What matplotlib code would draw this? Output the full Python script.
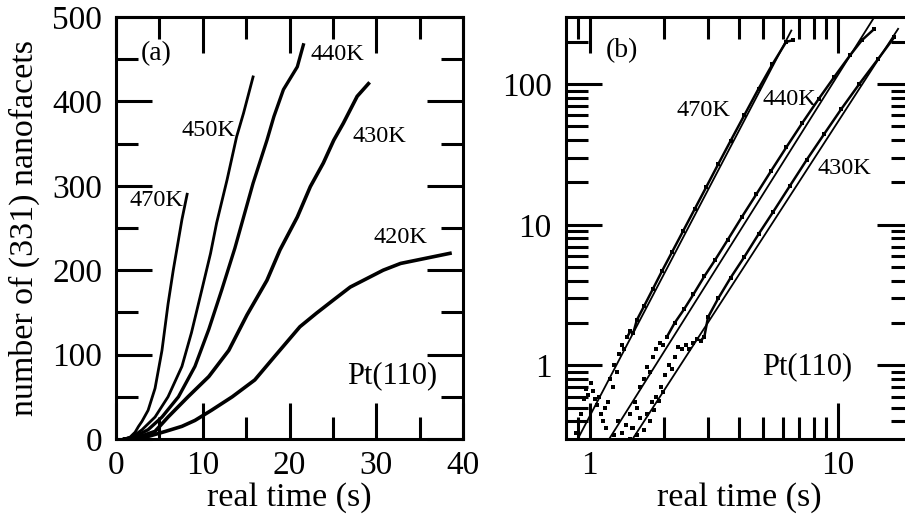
import numpy as np
import matplotlib
matplotlib.use("Agg")
import matplotlib.pyplot as plt
from matplotlib.ticker import MultipleLocator, FixedLocator, NullFormatter, FixedFormatter

plt.rcParams['font.family'] = ['Liberation Serif', 'DejaVu Serif']

# ---- (a) number of (331) nanofacets vs real time, linear axes ----
t470 = [1.0, 1.6, 2.2, 2.6, 3.0, 3.7, 4.5, 5.3, 6.0, 6.6, 7.0, 7.6, 8.2]
n470 = [0, 2, 8, 15, 21, 34, 60, 105, 160, 200, 224, 260, 290]

t450 = [1.0, 1.8, 3.0, 4.5, 6.0, 7.6, 8.7, 9.9, 10.9, 11.6, 12.8, 13.9, 14.7, 15.8]
n450 = [0, 2, 11, 26, 50, 86, 126, 177, 220, 256, 307, 358, 386, 429]

t440 = [1.0, 2.0, 3.7, 5.3, 7.2, 9.1, 10.7, 12.2, 13.7, 15.8, 17.4, 18.2, 19.3, 20.9, 21.6]
n440 = [0, 2, 11, 26, 50, 86, 130, 177, 226, 303, 354, 382, 414, 441, 467]

t430 = [1.0, 2.5, 4.5, 6.0, 8.3, 10.7, 13.0, 15.1, 17.4, 18.9, 20.9, 22.4, 23.9,
        25.1, 26.2, 27.8, 29.1]
n430 = [0, 2, 9, 26, 50, 74, 105, 147, 188, 224, 263, 299, 327, 354, 374, 406, 421]

t420 = [1.0, 2.5, 3.7, 5.7, 7.6, 9.1, 11.0, 13.4, 16.0, 18.3, 21.2, 23.1, 25.1,
        27.0, 28.9, 30.8, 32.8, 34.7, 36.6, 38.5]
n420 = [0, 1, 3, 9, 15, 22, 34, 50, 70, 98, 133, 149, 165, 180, 190, 200, 208,
        212, 216, 220]

# ---- (b) log-log, time from nucleation onset ----
bt470 = [0.88, 0.92, 0.95, 0.97, 0.99, 1.01, 1.03, 1.05, 1.07, 1.09, 1.11, 1.13,
         1.15, 1.17, 1.19, 1.21, 1.24, 1.26, 1.29, 1.32, 1.35, 1.38, 1.42, 1.46,
         1.50, 1.55, 1.66, 1.80, 1.96, 2.15, 2.38, 2.65, 2.95, 3.30, 3.70, 4.20,
         4.80, 5.45, 6.20, 6.60]
bn470 = [0.33, 0.45, 0.58, 0.68, 0.62, 0.75, 0.66, 0.58, 0.52, 0.60, 0.45, 0.40,
         0.50, 0.36, 0.55, 0.80, 0.70, 1.00, 0.90, 1.20, 1.40, 1.30, 1.60, 1.75,
         1.70, 2.10, 2.65, 3.50, 4.70, 6.40, 9.00, 12.9, 18.5, 27.0, 39.5, 60.0,
         93.0, 138, 200, 205]

bt440 = [1.25, 1.30, 1.35, 1.40, 1.45, 1.48, 1.52, 1.56, 1.60, 1.65, 1.70, 1.75,
         1.80, 1.86, 1.92, 1.98, 2.05, 2.20, 2.40, 2.62, 2.90, 3.20, 3.60, 4.10,
         4.70, 5.40, 6.20, 7.20, 8.40, 9.70, 11.2, 12.5, 14.0]
bn440 = [0.32, 0.40, 0.33, 0.38, 0.45, 0.36, 0.55, 0.50, 0.70, 0.80, 0.97, 0.90,
         1.15, 1.30, 1.45, 1.40, 1.60, 2.00, 2.50, 3.20, 4.30, 5.60, 7.80, 11.3,
         16.5, 24.3, 35.5, 53.0, 79.0, 113, 160, 205, 246]

bt430 = [1.45, 1.50, 1.55, 1.60, 1.65, 1.70, 1.75, 1.78, 1.82, 1.86, 1.90, 1.94,
         1.98, 2.02, 2.08, 2.14, 2.20, 2.28, 2.36, 2.44, 2.52, 2.60, 2.70, 2.80,
         2.90, 3.00, 3.30, 3.70, 4.20, 4.80, 5.50, 6.40, 7.50, 8.80, 10.3, 12.2,
         14.5, 16.9]
bn430 = [0.30, 0.36, 0.32, 0.42, 0.35, 0.45, 0.40, 0.55, 0.48, 0.60, 0.56, 0.70,
         0.65, 0.85, 1.00, 0.95, 1.15, 1.35, 1.30, 1.40, 1.30, 1.45, 1.55, 1.50,
         1.60, 2.20, 3.00, 4.20, 5.90, 8.60, 12.4, 18.8, 29.0, 44.0, 66.0, 100,
         150, 216]

# power-law fits N = A * t**n
fit_A = [0.434, 0.180, 0.101]
fit_n = [3.375, 2.808, 2.726]
fit_range = [(0.88, 6.5), (1.15, 14.5), (1.40, 17.5)]

W, H = 905, 522
fig = plt.figure(figsize=(W / 100, H / 100), dpi=100)

ax_b, ax_w, ax_h = 17, 347, 422
ax1 = fig.add_axes([116 / W, 1 - (ax_b + ax_h) / H, ax_w / W, ax_h / H])
ax2 = fig.add_axes([565.5 / W, 1 - (ax_b + ax_h) / H, ax_w / W, ax_h / H])

TICK_FS = 24
LABEL_FS = 24.5
for ax in (ax1, ax2):
    for sp in ax.spines.values():
        sp.set_linewidth(2.2)
    ax.tick_params(which='both', direction='in', top=True, right=True,
                   width=2.2, labelsize=TICK_FS)
    ax.tick_params(which='major', length=26)
    ax.tick_params(which='minor', length=16)
    ax.tick_params(axis='x', pad=8)
    ax.tick_params(axis='y', pad=10)

# panel (a)
for t, n, lw in ((t470, n470, 2.0), (t450, n450, 2.0), (t440, n440, 2.4),
                 (t430, n430, 2.6), (t420, n420, 2.6)):
    ax1.plot(t, n, color='black', lw=lw, solid_joinstyle='round')
ax1.set_xlim(0, 40)
ax1.set_ylim(0, 500)
ax1.xaxis.set_major_locator(MultipleLocator(10))
ax1.xaxis.set_minor_locator(MultipleLocator(5))
ax1.yaxis.set_major_locator(MultipleLocator(100))
ax1.yaxis.set_minor_locator(MultipleLocator(50))
ax1.set_xlabel('real time (s)', fontsize=LABEL_FS)
ax1.set_ylabel('number of (331) nanofacets', fontsize=LABEL_FS)
ax1.xaxis.set_label_coords(0.5, -0.102)
ax1.yaxis.set_label_coords(-0.219, 0.5)

lab_kw = dict(ha='left', va='center', fontsize=17.5)
ax1.text(2.8, 457, '(a)', ha='left', va='center', fontsize=20)
ax1.text(1.6, 283, '470K', **lab_kw)
ax1.text(7.6, 366, '450K', **lab_kw)
ax1.text(22.4, 455, '440K', **lab_kw)
ax1.text(27.3, 359, '430K', **lab_kw)
ax1.text(29.7, 239, '420K', **lab_kw)
ax1.text(26.6, 75, 'Pt(110)', ha='left', va='center', fontsize=22)

# panel (b): measured counts as dots, joined where the counts are large
ax2.set_xscale('log')
ax2.set_yscale('log')
for (t, n) in ((bt470, bn470), (bt440, bn440), (bt430, bn430)):
    t = np.asarray(t)
    n = np.asarray(n)
    ax2.plot(t, n, ls='none', color='black', marker='s', ms=2.2, mew=0)
    dense = n >= 1.5
    ax2.plot(t[dense], n[dense], color='black', lw=1.8)
for A, p, (t0, t1) in zip(fit_A, fit_n, fit_range):
    tt = np.geomspace(t0, t1, 50)
    ax2.plot(tt, A * tt ** p, color='black', lw=1.3)
ax2.set_xlim(0.8, 20)
ax2.set_ylim(0.3, 300)
ax2.xaxis.set_major_locator(FixedLocator([1, 10]))
ax2.xaxis.set_major_formatter(FixedFormatter(['1', '10']))
ax2.xaxis.set_minor_locator(FixedLocator([0.9] + list(range(2, 10)) + [20]))
ax2.xaxis.set_minor_formatter(NullFormatter())
ax2.yaxis.set_major_locator(FixedLocator([1, 10, 100]))
ax2.yaxis.set_major_formatter(FixedFormatter(['1', '10', '100']))
ax2.yaxis.set_minor_locator(FixedLocator([0.4, 0.5, 0.6, 0.7, 0.8, 0.9]
                                         + list(range(2, 10))
                                         + [20, 30, 40, 50, 60, 70, 80, 90, 200]))
ax2.yaxis.set_minor_formatter(NullFormatter())
ax2.set_xlabel('real time (s)', fontsize=LABEL_FS)
ax2.xaxis.set_label_coords(0.5, -0.102)

ax2.text(1.16, 172, '(b)', ha='left', va='center', fontsize=20)
ax2.text(2.25, 65, '470K', **lab_kw)
ax2.text(4.98, 78, '440K', **lab_kw)
ax2.text(8.28, 25, '430K', **lab_kw)
ax2.text(4.94, 0.98, 'Pt(110)', ha='left', va='center', fontsize=22)

fig.savefig('out.png', dpi=100, facecolor='white')
